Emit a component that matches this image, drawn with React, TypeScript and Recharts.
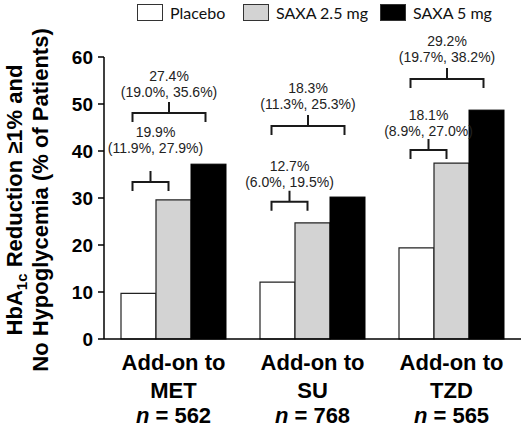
import React from 'react';
import { BarChart, Bar, XAxis, YAxis } from 'recharts';

// groups and sample sizes
const categories = ['MET', 'SU', 'TZD'];
const sampleSizes = [562, 768, 565];

// % of patients reaching HbA1c reduction >= 1% with no hypoglycemia
const placebo = [9.7, 12.1, 19.4];
const saxa25 = [29.6, 24.7, 37.4];
const saxa5 = [37.2, 30.2, 48.7];

const yTicks = [0, 10, 20, 30, 40, 50, 60];

// differences vs placebo (95% CI)
const diff25 = ['19.9%', '12.7%', '18.1%'];
const ci25 = ['(11.9%, 27.9%)', '(6.0%, 19.5%)', '(8.9%, 27.0%)'];
const diff5 = ['27.4%', '18.3%', '29.2%'];
const ci5 = ['(19.0%, 35.6%)', '(11.3%, 25.3%)', '(19.7%, 38.2%)'];

// bracket heights and label heights, in axis units
const bracket25Level = [33.4, 29.2, 40.2];
const bracket5Level = [48.1, 45.3, 55.3];
const label25Level = [40.6, 33.4, 44.2];
const label5Level = [52.6, 50.0, 60.1];

const seriesNames = ['Placebo', 'SAXA 2.5 mg', 'SAXA 5 mg'];
const seriesFills = ['#ffffff', '#d3d3d3', '#000000'];

const data = categories.map((c, i) => ({
  cat: c,
  n: sampleSizes[i],
  placebo: placebo[i],
  saxa25: saxa25[i],
  saxa5: saxa5[i],
}));

const ARIAL = '"Liberation Sans", Arial, sans-serif';

function Bracket({ x1, x2, yLine, yLabel, value, ci, shift = 0 }: any) {
  const mid = (x1 + x2) / 2;
  return (
    <g>
      <path
        d={`M${x1},${yLine + 9} V${yLine} H${x2} V${yLine + 9} M${mid},${yLine} V${yLine - 11}`}
        stroke="#1a1a1a"
        strokeWidth={2}
        fill="none"
      />
      <text x={mid + shift} y={yLabel - 16} textAnchor="middle" dominantBaseline="central" fontFamily={ARIAL} fontSize={14} fill="#222">
        {value}
      </text>
      <text x={mid + shift} y={yLabel} textAnchor="middle" dominantBaseline="central" fontFamily={ARIAL} fontSize={14} fill="#222">
        {ci}
      </text>
    </g>
  );
}

// black bar + the two comparison brackets of its group
function BlackBarWithBrackets(props: any) {
  const { x, y, width, height, index, payload } = props;
  const base = y + height;
  const k = height / payload.saxa5;
  const toY = (v: number) => base - v * k;
  const whiteC = x - 2 * width + width / 2;
  const grayC = x - width + width / 2;
  const blackC = x + width / 2;
  const left = whiteC - 6;
  return (
    <g>
      <rect x={x} y={y} width={width} height={height} fill="#000" stroke="#000" strokeWidth={1} />
      <Bracket
        x1={left}
        x2={grayC - 5}
        yLine={toY(bracket25Level[index])}
        yLabel={toY(label25Level[index])}
        value={diff25[index]}
        ci={ci25[index]}
        shift={index === 0 ? 5 : 0}
      />
      <Bracket
        x1={left}
        x2={blackC - 3}
        yLine={toY(bracket5Level[index])}
        yLabel={toY(label5Level[index])}
        value={diff5[index]}
        ci={ci5[index]}
      />
    </g>
  );
}

function CategoryTick({ x, y, payload, index }: any) {
  const style = { fontFamily: ARIAL, fontWeight: 'bold' as const, fontSize: 22, fill: '#000' };
  return (
    <g>
      <text x={x} y={y + 29} textAnchor="middle" {...style}>Add-on to</text>
      <text x={x} y={y + 57} textAnchor="middle" {...style}>{payload.value}</text>
      <text x={x} y={y + 82} textAnchor="middle" {...style}>
        <tspan fontStyle="italic">n</tspan>
        {` = ${sampleSizes[index]}`}
      </text>
    </g>
  );
}

function YLabel(props: any) {
  const vb = props.viewBox || { x: 0, y: 57, width: 104, height: 282 };
  const cy = vb.y + vb.height / 2 + 2;
  const style = { fontFamily: ARIAL, fontWeight: 'bold' as const, fontSize: 22, fill: '#000' };
  return (
    <g>
      <text transform={`translate(22,${cy}) rotate(-90)`} textAnchor="middle" {...style}>
        HbA<tspan fontSize={15} dy={5}>1c</tspan>
        <tspan dy={-5}> Reduction ≥1% and</tspan>
      </text>
      <text transform={`translate(48,${cy}) rotate(-90)`} textAnchor="middle" {...style}>
        No Hypoglycemia (% of Patients)
      </text>
    </g>
  );
}

export default function App() {
  const legendLeft = [137, 243, 380];
  return (
    <div style={{ position: 'absolute', left: 0, top: 0, width: 531, height: 428, background: '#fff' }}>
      <BarChart
        width={531}
        height={428}
        data={data}
        margin={{ top: 57, right: 10, left: 0, bottom: 0 }}
        barGap={0}
        barSize={35}
      >
        <XAxis
          dataKey="cat"
          height={89}
          tickLine={false}
          tickSize={0}
          axisLine={{ stroke: '#000', strokeWidth: 1.5 }}
          tick={<CategoryTick />}
          interval={0}
        />
        <YAxis
          width={104}
          domain={[0, 60]}
          ticks={yTicks}
          interval={0}
          tickSize={6}
          tickMargin={5}
          axisLine={{ stroke: '#000', strokeWidth: 1.5 }}
          tickLine={{ stroke: '#000', strokeWidth: 1.5 }}
          tick={{ fontFamily: ARIAL, fontWeight: 'bold', fontSize: 19, fill: '#000' }}
          label={(p: any) => <YLabel {...p} />}
        />
        <Bar dataKey="placebo" name={seriesNames[0]} fill={seriesFills[0]} stroke="#222" strokeWidth={1.2} isAnimationActive={false} />
        <Bar dataKey="saxa25" name={seriesNames[1]} fill={seriesFills[1]} stroke="#222" strokeWidth={1.2} isAnimationActive={false} />
        <Bar dataKey="saxa5" name={seriesNames[2]} fill={seriesFills[2]} isAnimationActive={false} shape={(p: any) => <BlackBarWithBrackets {...p} />} />
      </BarChart>
      {seriesNames.map((name, i) => (
        <div
          key={name}
          style={{ position: 'absolute', top: 3, left: legendLeft[i], display: 'flex', alignItems: 'center', fontFamily: 'Lato, sans-serif', fontSize: 16, color: '#111' }}
        >
          <span style={{ display: 'inline-block', width: 26, height: 17, background: seriesFills[i], border: '1px solid #333', boxSizing: 'border-box', marginRight: 7 }} />
          <span>{name}</span>
        </div>
      ))}
    </div>
  );
}
